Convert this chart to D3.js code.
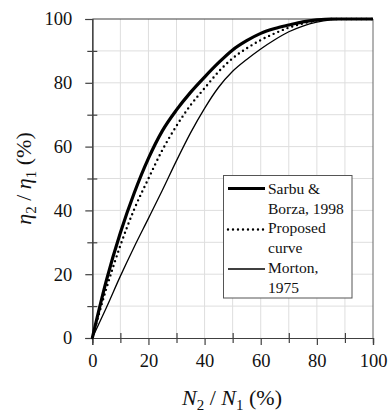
<!DOCTYPE html>
<html>
<head>
<meta charset="utf-8">
<script src="https://cdn.jsdelivr.net/npm/d3@7"></script>
<style>
  html, body { margin: 0; padding: 0; background: #fff; }
  svg { display: block; }
  svg text { font-family: "Liberation Serif", Tinos, "Times New Roman", Times, "DejaVu Serif", serif; fill: #111; }
</style>
</head>
<body>
<svg id="chart" width="390" height="414"></svg>
<script>
// Load ratio N2/N1 (%) at which each curve is sampled
const ratio = [0, 5, 10, 15, 20, 25, 30, 35, 40, 45, 50, 55, 60, 65, 70, 75, 80, 85, 90, 95, 100];

// Efficiency ratio eta2/eta1 (%) for each source
const sarbuBorza = [0, 18, 33, 45.6, 56.3, 65, 71.5, 77, 81.8, 86.3, 90.3, 93.2, 95.5, 97, 98.1, 99.1, 99.7, 100, 100, 100, 100];
const proposed   = [0, 15.5, 29, 40.5, 50, 59, 66.5, 73, 78.3, 83.5, 87.7, 90.8, 93.4, 95.5, 97.3, 98.6, 99.5, 100, 100, 100, 100];
const morton     = [0, 9.5, 19.4, 28.7, 37.5, 46.4, 55.6, 64.3, 72, 78.6, 83.6, 87.3, 90.6, 93.5, 96, 97.8, 99, 99.7, 100, 100, 100];

// Legend entries (text lines)
const legendLabels = [
  ["Sarbu &", "Borza, 1998"],
  ["Proposed", "curve"],
  ["Morton,", "1975"]
];

const majorTicks = [0, 20, 40, 60, 80, 100];
const minorTicks = [10, 30, 50, 70, 90];

const svg = d3.select("#chart");
const x = d3.scaleLinear().domain([0, 100]).range([92.3, 373]);
const y = d3.scaleLinear().domain([0, 100]).range([338, 19]);

const axisColor = "#404040";
const serif = "'Liberation Serif', Tinos, 'Times New Roman', Times, 'DejaVu Serif', serif";

// Grid
const grid = svg.append("g");
const gridVals = d3.range(10, 100, 10);
grid.selectAll("line.v").data(gridVals).join("line")
  .attr("x1", d => x(d)).attr("x2", d => x(d))
  .attr("y1", y(0)).attr("y2", y(100))
  .attr("stroke", "#dedede").attr("stroke-width", 1);
grid.selectAll("line.h").data(gridVals).join("line")
  .attr("x1", x(0)).attr("x2", x(100))
  .attr("y1", d => y(d)).attr("y2", d => y(d))
  .attr("stroke", "#dedede").attr("stroke-width", 1);

// Frame: top and right edges
svg.append("line").attr("x1", x(0)).attr("x2", x(100)).attr("y1", y(100)).attr("y2", y(100))
  .attr("stroke", axisColor).attr("stroke-width", 1.2);
svg.append("line").attr("x1", x(100)).attr("x2", x(100)).attr("y1", y(100)).attr("y2", y(0))
  .attr("stroke", "#666").attr("stroke-width", 1);

// Bottom axis: major ticks outward, minor ticks crossing
const xAxis = svg.append("g").attr("transform", `translate(0,${y(0)})`)
  .call(d3.axisBottom(x).tickValues(majorTicks).tickSize(7).tickPadding(7).tickFormat(d3.format("d")));
const xMinor = svg.append("g").attr("transform", `translate(0,${y(0)})`)
  .call(d3.axisBottom(x).tickValues(minorTicks).tickSize(5).tickFormat(""));
xMinor.selectAll(".tick line").attr("y1", -5);

// Left axis
const yAxis = svg.append("g").attr("transform", `translate(${x(0)},0)`)
  .call(d3.axisLeft(y).tickValues(majorTicks).tickSize(7).tickPadding(13).tickFormat(d3.format("d")));
const yMinor = svg.append("g").attr("transform", `translate(${x(0)},0)`)
  .call(d3.axisLeft(y).tickValues(minorTicks).tickSize(5).tickFormat(""));
yMinor.selectAll(".tick line").attr("x1", 5);

[xAxis, xMinor, yAxis, yMinor].forEach(g => {
  g.attr("font-family", serif);
  g.select(".domain").attr("stroke", axisColor).attr("stroke-width", 1.2);
  g.selectAll(".tick line").attr("stroke", axisColor).attr("stroke-width", 1.2);
  g.selectAll("text").attr("font-size", 18.5).attr("fill", "#111");
});
xAxis.selectAll("text").attr("dy", "0.8em");

// Curves
const line = d3.line().x((d, i) => x(ratio[i])).y(d => y(d)).curve(d3.curveMonotoneX);

svg.append("path").datum(morton).attr("d", line)
  .attr("fill", "none").attr("stroke", "#000").attr("stroke-width", 1.3);
svg.append("path").datum(proposed).attr("d", line)
  .attr("fill", "none").attr("stroke", "#000").attr("stroke-width", 2.4)
  .attr("stroke-dasharray", "0 5").attr("stroke-linecap", "round");
svg.append("path").datum(sarbuBorza).attr("d", line)
  .attr("fill", "none").attr("stroke", "#000").attr("stroke-width", 3.2);

// Legend
const lg = svg.append("g");
lg.append("rect").attr("x", 223.5).attr("y", 175.5).attr("width", 128.5).attr("height", 122.5)
  .attr("fill", "#fff").attr("stroke", "#555").attr("stroke-width", 1);
const lineStyles = [
  { w: 3.2, dash: null, cap: "butt" },
  { w: 2.4, dash: "0 5", cap: "round" },
  { w: 1.3, dash: null, cap: "butt" }
];
const lineYs = [188.5, 229.5, 269];
lineStyles.forEach((s, i) => {
  lg.append("line").attr("x1", 228).attr("x2", 265).attr("y1", lineYs[i]).attr("y2", lineYs[i])
    .attr("stroke", "#000").attr("stroke-width", s.w)
    .attr("stroke-dasharray", s.dash).attr("stroke-linecap", s.cap);
});
legendLabels.flat().forEach((t, i) => {
  lg.append("text").attr("x", 268).attr("y", 194 + i * 19.7)
    .attr("font-size", 15.5).text(t);
});

// Axis titles
const xt = svg.append("text").attr("x", 232).attr("y", 405).attr("text-anchor", "middle").attr("font-size", 22);
xt.append("tspan").attr("font-style", "italic").text("N");
xt.append("tspan").attr("font-size", 15).attr("dy", 5).text("2");
xt.append("tspan").attr("dy", -5).text(" / ");
xt.append("tspan").attr("font-style", "italic").text("N");
xt.append("tspan").attr("font-size", 15).attr("dy", 5).text("1");
xt.append("tspan").attr("dy", -5).text(" (%)");

const yt = svg.append("text").attr("transform", `translate(31,${(y(0) + y(100)) / 2}) rotate(-90)`)
  .attr("text-anchor", "middle").attr("font-size", 22);
yt.append("tspan").attr("font-style", "italic").text("η");
yt.append("tspan").attr("font-size", 15).attr("dy", 5).text("2");
yt.append("tspan").attr("dy", -5).text(" / ");
yt.append("tspan").attr("font-style", "italic").text("η");
yt.append("tspan").attr("font-size", 15).attr("dy", 5).text("1");
yt.append("tspan").attr("dy", -5).text(" (%)");
</script>
</body>
</html>
